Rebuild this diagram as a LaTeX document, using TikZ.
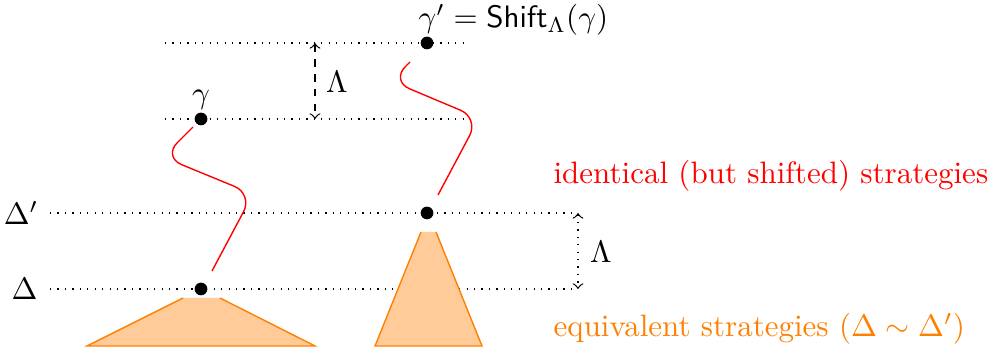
\documentclass[tikz,border=0pt]{standalone}
\usetikzlibrary{arrows}
\tikzset{
  guide/.style={dotted, line width=0.4pt},
  dotnode/.style={circle, fill=black, inner sep=0pt, minimum size=4.1pt},
  strat/.style={red, line width=0.45pt, rounded corners=6.5pt},
  cone/.style={fill=orange!40, draw=none},
  coneedge/.style={orange, line width=0.45pt},
  lbl/.style={inner sep=0pt},
}
\begin{document}
\begin{tikzpicture}[x=0.3226pt, y=-0.3226pt]
\useasboundingbox (0,0) rectangle (995,354);
% guide lines
\coordinate (d0) at (50,289);  \coordinate (d1) at (578,289);
\coordinate (p0) at (50,213);  \coordinate (p1) at (578,213);
\coordinate (g0) at (165,119); \coordinate (g1) at (468,119);
\coordinate (h0) at (165,43);  \coordinate (h1) at (468,43);
\draw[guide] (d0) -- (d1);
\draw[guide] (p0) -- (p1);
\draw[guide] (g0) -- (g1);
\draw[guide] (h0) -- (h1);
% cones
\coordinate (la) at (183,298); \coordinate (lb) at (220,298);
\coordinate (lc) at (315,346); \coordinate (ld) at (87,346);
\fill[cone] (la) -- (lb) -- (lc) -- (ld) -- cycle;
\draw[coneedge] (la) -- (ld) -- (lc) -- (lb);
\coordinate (ra) at (421,232); \coordinate (rb) at (436,232);
\coordinate (rc) at (482,346); \coordinate (rd) at (375,346);
\fill[cone] (ra) -- (rb) -- (rc) -- (rd) -- cycle;
\draw[coneedge] (ra) -- (rd) -- (rc) -- (rb);
% dots
\node[dotnode] (D) at (201,289) {};
\node[dotnode] (Dp) at (427,213) {};
\node[dotnode] (G) at (201,119) {};
\node[dotnode] (Gp) at (427,43) {};
% strategies
\coordinate (s1) at (212,271); \coordinate (s2) at (253,194);
\coordinate (s3) at (163,157); \coordinate (s4) at (193,127);
\draw[strat] (s1) -- (s2) -- (s3) -- (s4);
\coordinate (t1) at (438,195); \coordinate (t2) at (479,118);
\coordinate (t3) at (391,81); \coordinate (t4) at (410,62);
\draw[strat] (t1) -- (t2) -- (t3) -- (t4);
% Lambda arrows
\coordinate (a0) at (315,43); \coordinate (a1) at (315,119);
\draw[<->, dash pattern=on 2.4pt off 2.4pt, line width=0.4pt] (a0) -- (a1);
\coordinate (b0) at (578,213); \coordinate (b1) at (578,289);
\draw[<->, dotted, line width=0.4pt] (b0) -- (b1);
% labels
\node[lbl, anchor=base] (Lam1) at (337,93) {$\Lambda$};
\node[lbl, anchor=base] (Lam2) at (601,263) {$\Lambda$};
\node[lbl, anchor=base east] (DL) at (38,300) {$\Delta$};
\node[lbl, anchor=base east] (DpL) at (39,225) {$\Delta'$};
\node[lbl, anchor=base] (GL) at (201,104) {$\gamma$};
\node[lbl, anchor=base west] (GpL) at (418,28) {$\gamma' = \mathsf{Shift}_\Lambda(\gamma)$};
\node[lbl, anchor=base west, red] (T1) at (553,184) {identical (but shifted) strategies};
\node[lbl, anchor=base west, orange] (T2) at (553,337) {equivalent strategies ($\Delta\sim\Delta'$)};
\end{tikzpicture}
\end{document}
